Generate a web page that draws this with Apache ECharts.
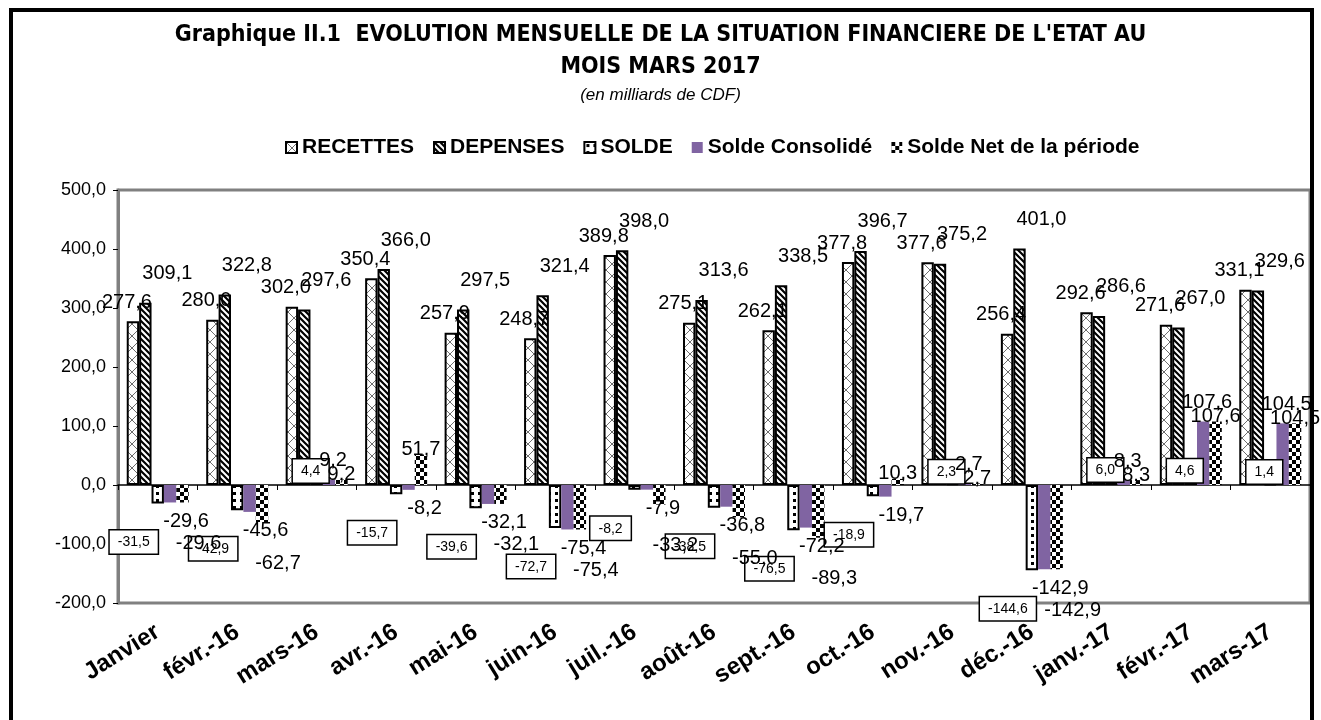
<!DOCTYPE html>
<html>
<head>
<meta charset="utf-8">
<script src="https://cdn.jsdelivr.net/npm/echarts@6/dist/echarts.min.js"></script>
<style>
  html, body { margin: 0; padding: 0; background: #fff; }
  #chart { width: 1321px; height: 720px; }
</style>
</head>
<body>
<div id="chart"></div>
<script>
const categories = ['Janvier', 'févr.-16', 'mars-16', 'avr.-16', 'mai-16', 'juin-16', 'juil.-16', 'août-16',
  'sept.-16', 'oct.-16', 'nov.-16', 'déc.-16', 'janv.-17', 'févr.-17', 'mars-17']
const recettes = [277.6, 280.0, 302.0, 350.4, 257.9, 248.7, 389.8, 275.1, 262.1, 377.8, 377.6, 256.4, 292.6, 271.6, 331.1]
const depenses = [309.1, 322.8, 297.6, 366.0, 297.5, 321.4, 398.0, 313.6, 338.5, 396.7, 375.2, 401.0, 286.6, 267.0, 329.6]
const solde = [-31.5, -42.9, 4.4, -15.7, -39.6, -72.7, -8.2, -38.5, -76.5, -18.9, 2.3, -144.6, 6.0, 4.6, 1.4]
const soldeConsolide = [-29.6, -45.6, 9.2, -8.2, -32.1, -75.4, -7.9, -36.8, -72.2, -19.7, 2.7, -142.9, 8.3, 107.6, 104.5]
const soldeNet = [-29.6, -62.7, 9.2, 51.7, -32.1, -75.4, -33.2, -55.0, -89.3, 10.3, 2.7, -142.9, 8.3, 107.6, 104.5]

const FONT = "'Liberation Sans', Arial, sans-serif"
const NARROW = "'Liberation Sans Narrow', 'DejaVu Sans Condensed', sans-serif"
const PURPLE = '#8064A2'

// hatch fills like the Excel patterns
const makePattern = (size, draw) => {
  const c = document.createElement('canvas')
  c.width = c.height = size
  const ctx = c.getContext('2d')
  ctx.fillStyle = '#fff'
  ctx.fillRect(0, 0, size, size)
  draw(ctx, size)
  return { image: c, repeat: 'repeat' }
}

const crossFill = makePattern(12, (ctx, s) => {
  ctx.strokeStyle = '#6e6e6e'
  ctx.lineWidth = 1
  ctx.beginPath()
  ctx.moveTo(0, 0); ctx.lineTo(s, s)
  ctx.moveTo(s, 0); ctx.lineTo(0, s)
  ctx.stroke()
})

const stripeFill = makePattern(6, (ctx, s) => {
  ctx.strokeStyle = '#000'
  ctx.lineWidth = 2.2
  ctx.beginPath()
  ctx.moveTo(-s, 0); ctx.lineTo(2 * s, 3 * s)
  ctx.moveTo(-s, -s); ctx.lineTo(2 * s, 2 * s)
  ctx.moveTo(0, -s); ctx.lineTo(3 * s, 2 * s)
  ctx.stroke()
})

const dotFill = makePattern(7, (ctx) => {
  ctx.fillStyle = '#000'
  ctx.fillRect(2, 2, 3, 3)
})

const checkFill = makePattern(8, (ctx) => {
  ctx.fillStyle = '#000'
  ctx.fillRect(0, 0, 4, 4)
  ctx.fillRect(4, 4, 4, 4)
})

const fmt = (p) => p.value.toFixed(1).replace('.', ',')

const bigLabel = { show: true, color: '#000', fontFamily: FONT, fontSize: 20, formatter: fmt }

// per-point label placement depending on the sign of the value
const withLabels = (values, posOffset, negOffset, extra) => values.map(v => ({
  value: v,
  label: Object.assign({}, bigLabel, extra || {}, {
    position: v < 0 ? 'bottom' : 'top',
    offset: v < 0 ? negOffset : posOffset
  })
}))

const boxLabel = {
  fontSize: 14,
  backgroundColor: '#fff',
  borderColor: '#000',
  borderWidth: 1.5,
  padding: [5, 8, 4, 8]
}

const chart = echarts.init(document.getElementById('chart'))

const option = {
  backgroundColor: '#fff',
  animation: false,
  title: {
    text: "Graphique II.1  EVOLUTION MENSUELLE DE LA SITUATION FINANCIERE DE L'ETAT AU\nMOIS MARS 2017",
    subtext: '(en milliards de CDF)',
    left: 'center',
    top: 14,
    itemGap: 4,
    textStyle: { fontFamily: NARROW, fontSize: 23, fontWeight: 'bold', color: '#000', lineHeight: 32 },
    subtextStyle: { fontFamily: FONT, fontSize: 17, fontStyle: 'italic', color: '#000' }
  },
  legend: {
    top: 132,
    left: 280,
    itemGap: 19,
    itemWidth: 11,
    itemHeight: 11,
    icon: 'rect',
    textStyle: { fontFamily: FONT, fontSize: 21, fontWeight: 'bold', color: '#000' }
  },
  graphic: [{
    type: 'rect',
    shape: { x: 11, y: 10, width: 1301, height: 730 },
    style: { fill: 'none', stroke: '#000', lineWidth: 4 },
    z: 100
  }],
  grid: {
    left: 118, right: 11, top: 190, bottom: 117,
    show: true,
    borderColor: '#808080',
    borderWidth: 3
  },
  xAxis: [{
    type: 'category',
    data: categories,
    position: 'bottom',
    axisLine: { show: false, onZero: false },
    axisTick: { show: false },
    axisLabel: {
      rotate: 32,
      margin: 27,
      fontFamily: FONT,
      fontSize: 24,
      fontWeight: 'bold',
      color: '#000'
    }
  }, {
    type: 'category',
    data: categories,
    position: 'top',
    axisLine: { show: true, onZero: true, lineStyle: { color: '#000', width: 1.5 } },
    axisTick: { show: true, inside: true, length: 5, lineStyle: { color: '#000' } },
    axisLabel: { show: false }
  }],
  yAxis: {
    type: 'value',
    min: -200,
    max: 500,
    interval: 100,
    axisLine: { show: true, lineStyle: { color: '#808080', width: 3 } },
    axisTick: { show: true, length: 5, lineStyle: { color: '#000' } },
    splitLine: { show: false },
    axisLabel: {
      fontFamily: FONT,
      fontSize: 18,
      color: '#000',
      margin: 12,
      formatter: v => v.toFixed(1).replace('.', ',')
    }
  },
  series: [
    {
      name: 'RECETTES',
      type: 'bar',
      barGap: '0%',
      barCategoryGap: '22%',
      itemStyle: { color: crossFill, borderColor: '#000', borderWidth: 2 },
      data: withLabels(recettes, [-6, -4], [-6, 4])
    },
    {
      name: 'DEPENSES',
      type: 'bar',
      itemStyle: { color: stripeFill, borderColor: '#000', borderWidth: 2 },
      data: withLabels(depenses, [22, -14], [22, 4])
    },
    {
      name: 'SOLDE',
      type: 'bar',
      itemStyle: { color: dotFill, borderColor: '#000', borderWidth: 2 },
      data: withLabels(solde, [-6, 5], [-24, 22], boxLabel)
    },
    {
      name: 'Solde Consolidé',
      type: 'bar',
      itemStyle: { color: PURPLE },
      data: withLabels(soldeConsolide, [4, -4], [16, 4])
    },
    {
      name: 'Solde Net de la période',
      type: 'bar',
      itemStyle: { color: checkFill },
      data: withLabels(soldeNet, [0, 10], [16, 26])
    }
  ]
}

chart.setOption(option)
window.addEventListener('resize', () => chart.resize())
</script>
</body>
</html>
